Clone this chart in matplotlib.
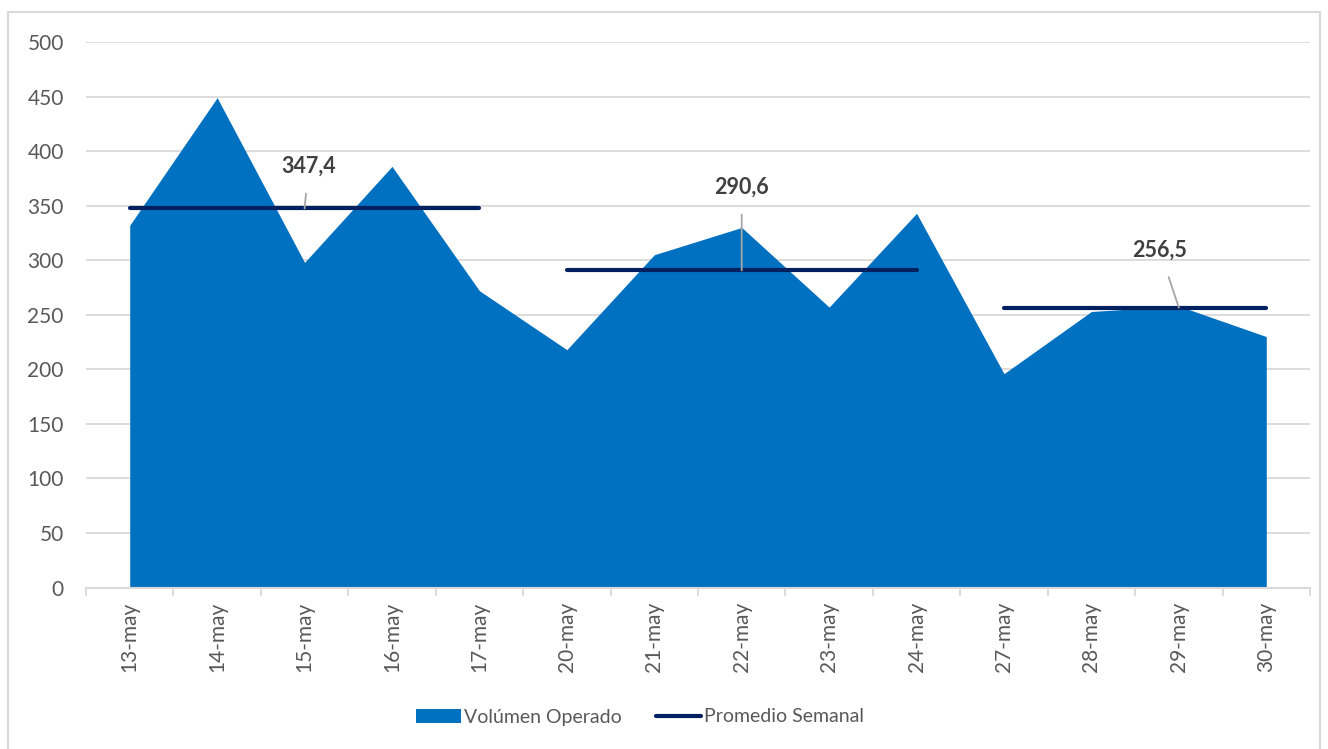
import matplotlib
matplotlib.use("Agg")
import matplotlib.pyplot as plt
from matplotlib.patches import Rectangle

plt.rcParams['font.family'] = ['Lato', 'DejaVu Sans']

fechas = ["13-may", "14-may", "15-may", "16-may", "17-may",
          "20-may", "21-may", "22-may", "23-may", "24-may",
          "27-may", "28-may", "29-may", "30-may"]
volumen = [332, 449, 298, 386, 272,
           218, 305, 330, 257, 343,
           196, 253, 258, 230]
semana = [0, 0, 0, 0, 0, 1, 1, 1, 1, 1, 2, 2, 2, 2]
promedio = [347.4, 290.6, 256.5]
etiquetas = ["347,4", "290,6", "256,5"]
# punto donde se ancla cada etiqueta (indice de fecha) y desplazamiento en px
ancla = [2, 7, 12]
desplaz = [(4, 42), (0, 83), (-19, 57)]

AZUL = "#0070C0"
AZUL_OSC = "#002060"
GRIS = "#d9d9d9"
TEXTO = "#595959"

fig = plt.figure(figsize=(13.28, 7.49), dpi=100)
fig.patches.append(Rectangle((8 / 1328, -0.01), 1312 / 1328, 1 - 12 / 749 + 0.01,
                             transform=fig.transFigure, fill=False,
                             edgecolor=GRIS, linewidth=1.5))
ax = fig.add_axes([86 / 1328, 1 - 587.5 / 749, 1224 / 1328, 545.5 / 749])

x = list(range(len(fechas)))
ax.fill_between(x, volumen, 0, color=AZUL, linewidth=0, label="Volúmen Operado", zorder=2)

for s, prom in enumerate(promedio):
    xs = [i for i in x if semana[i] == s]
    ax.plot([xs[0], xs[-1]], [prom, prom], color=AZUL_OSC, linewidth=3,
            solid_capstyle="round", zorder=3,
            label="Promedio Semanal" if s == 0 else None)

for s, prom in enumerate(promedio):
    dx, dy = desplaz[s]
    ax.annotate(etiquetas[s], xy=(ancla[s], prom),
                xytext=(dx * 0.72, dy * 0.72), textcoords="offset points",
                ha="center", va="center", fontsize=15.5, fontweight="bold",
                color="#404040",
                arrowprops=dict(arrowstyle="-", color="#a6a6a6", lw=1.3,
                                shrinkA=10, shrinkB=0), zorder=4)

ax.set_xlim(-0.5, len(fechas) - 0.5)
ax.set_ylim(0, 500)
ax.set_yticks(range(0, 501, 50))
ax.set_xticks(x)
ax.set_xticklabels(fechas, rotation=90)
ax.set_xticks([i - 0.5 for i in range(len(fechas) + 1)], minor=True)
ax.tick_params(axis="x", which="major", length=0, pad=10, labelsize=15, labelcolor=TEXTO)
ax.tick_params(axis="x", which="minor", length=6, width=1.3, color=GRIS)
ax.tick_params(axis="y", length=0, pad=16, labelsize=15, labelcolor=TEXTO)

ax.grid(axis="y", color=GRIS, linewidth=1.3, zorder=0)
ax.set_axisbelow(True)
for lado in ["left", "right", "top"]:
    ax.spines[lado].set_visible(False)
ax.spines["bottom"].set_color(GRIS)
ax.spines["bottom"].set_linewidth(1.5)

fig.legend(loc="center", bbox_to_anchor=(640 / 1328, 1 - 717 / 749), ncol=2,
           frameon=False, fontsize=14, handlelength=2.3, handleheight=0.75,
           handletextpad=0.15, columnspacing=1.8, labelcolor=TEXTO)

fig.savefig("out.png", dpi=100)
